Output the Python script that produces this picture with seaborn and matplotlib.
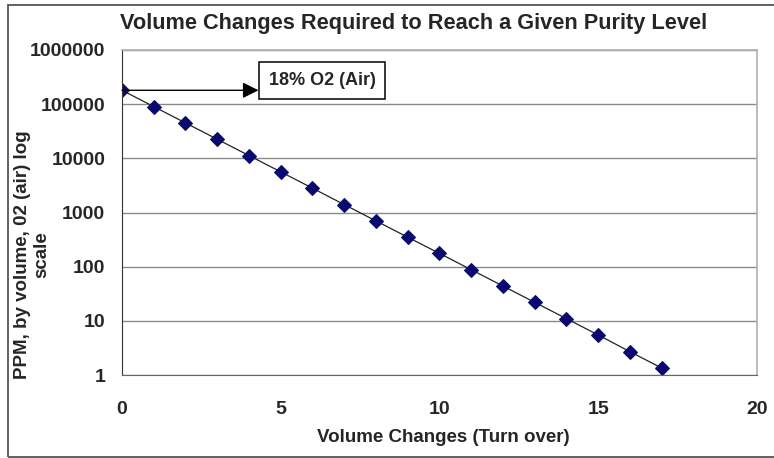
import numpy as np
import pandas as pd
import seaborn as sns
import matplotlib
matplotlib.use('Agg')
import matplotlib.pyplot as plt
from matplotlib.ticker import FuncFormatter, FixedLocator, NullLocator
from matplotlib.patches import Rectangle

# values
volume_changes = list(range(18))
ppm = [180000, 90000, 45000, 22500, 11250, 5625, 2810, 1400, 700, 350,
       176, 88, 44, 22, 11, 5.5, 2.7, 1.35]
ytick_vals = [1, 10, 100, 1000, 10000, 100000, 1000000]
xtick_vals = [0, 5, 10, 15, 20]

data = pd.DataFrame({'changes': volume_changes, 'ppm': ppm})

sns.set_style('white')
plt.rcParams['font.family'] = ['Liberation Sans', 'DejaVu Sans']
plt.rcParams['font.weight'] = 'bold'

fig = plt.figure(figsize=(7.74, 4.58), dpi=100)
ax = fig.add_axes([0.1576, 0.181, 0.8204, 0.710])

sns.lineplot(x='changes', y='ppm', data=data, ax=ax, color='#222222',
             linewidth=0.9, marker='D', markersize=7,
             markerfacecolor='#0a0a6e', markeredgecolor='#0a0a6e')

ax.set_yscale('log')
ax.set_ylim(1, 1000000)
ax.set_xlim(0, 20)
ax.yaxis.set_major_locator(FixedLocator(ytick_vals))
ax.yaxis.set_minor_locator(NullLocator())
ax.yaxis.set_major_formatter(FuncFormatter(lambda v, p: '%d' % round(v)))
ax.set_xticks(xtick_vals)
ax.grid(axis='y', color='#8a8a8a', linewidth=1.0)
ax.set_axisbelow(True)

for side in ['top', 'right']:
    ax.spines[side].set_color('#b0b0b0')
    ax.spines[side].set_linewidth(1.2)
ax.spines['left'].set_color('#333333')
ax.spines['bottom'].set_color('#666666')
ax.tick_params(axis='both', direction='out', length=5, width=0.8,
               color='#444444', labelsize=14)
ax.tick_params(axis='y', pad=7)
ax.tick_params(axis='x', pad=14)
for lab in ax.get_xticklabels() + ax.get_yticklabels():
    lab.set_fontweight('bold')

ax.set_xlabel('Volume Changes (Turn over)', fontsize=13.5, fontweight='bold')
ax.xaxis.set_label_coords(0.506, -0.167)
ax.set_ylabel('PPM, by volume, 02 (air) log\nscale', fontsize=13.5,
              fontweight='bold', linespacing=1.2)
ax.yaxis.set_label_coords(-0.112, 0.37)

fig.text(0.534, 0.948, 'Volume Changes Required to Reach a Given Purity Level',
         ha='center', va='center', fontsize=15.7, fontweight='bold')

# callout for the starting point
ax.annotate('', xy=(4.3, ppm[0]), xytext=(0, ppm[0]),
            arrowprops=dict(arrowstyle='-|>', color='black', lw=1.0,
                            mutation_scale=24, shrinkA=0, shrinkB=0))
ax.text(4.62, ppm[0] * 1.5, '18% O2 (Air)', ha='left', va='center',
        fontsize=13, fontweight='bold',
        bbox=dict(boxstyle='square,pad=0.55', facecolor='white',
                  edgecolor='black', linewidth=1.1))

fig.patches.append(Rectangle((0.010, 0.003), 1.05, 0.987,
                             transform=fig.transFigure, fill=False,
                             edgecolor='#555555', linewidth=1.3))

fig.savefig('out.png', dpi=100)
